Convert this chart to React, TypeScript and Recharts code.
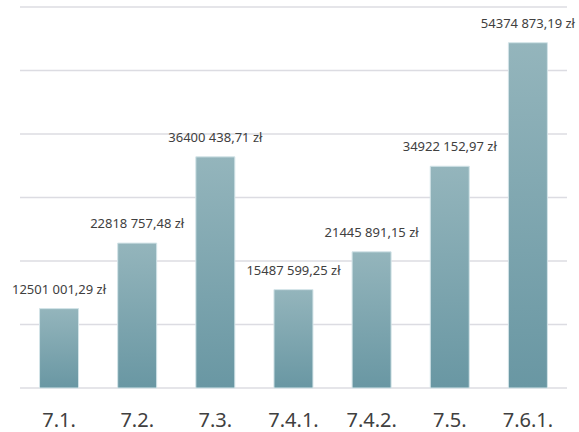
import { BarChart, Bar, XAxis, YAxis, CartesianGrid, LabelList } from 'recharts'

const categories = ['7.1.', '7.2.', '7.3.', '7.4.1.', '7.4.2.', '7.5.', '7.6.1.']
const amounts = [12501001.29, 22818757.48, 36400438.71, 15487599.25, 21445891.15, 34922152.97, 54374873.19]
const yTicks = [0, 10000000, 20000000, 30000000, 40000000, 50000000, 60000000]

const data = categories.map((name, i) => ({ name, value: amounts[i] }))

// excel-style: only the last thousands group is split off
function formatPln(v: number) {
  const [int, dec] = v.toFixed(2).split('.')
  const head = int.length > 3 ? int.slice(0, -3) + ' ' + int.slice(-3) : int
  return `${head},${dec} zł`
}

// plain text so the label doesn't wrap to the bar's width
function ValueLabel(props: any) {
  const { x, y, width, value } = props
  return (
    <text x={Number(x) + Number(width) / 2} y={Number(y) - 15} textAnchor="middle" fontSize={13} fill="#404040">
      {formatPln(Number(value))}
    </text>
  )
}

export default function App() {
  return (
    <div style={{ position: 'fixed', left: 0, top: 0, width: 579, height: 432, background: '#fff', fontFamily: '"Noto Sans", sans-serif' }}>
      <BarChart width={579} height={432} data={data} margin={{ top: 7, right: 12, left: 20, bottom: 0 }} barCategoryGap="25%">
        <defs>
          <linearGradient id="barFill" x1="0" y1="0" x2="0" y2="1">
            <stop offset="0%" stopColor="#94b5bc" />
            <stop offset="100%" stopColor="#6997a3" />
          </linearGradient>
        </defs>
        <CartesianGrid vertical={false} stroke="#dcdce2" strokeWidth={1.5} />
        <YAxis hide domain={[0, 60000000]} ticks={yTicks} />
        <XAxis
          dataKey="name"
          height={44}
          axisLine={false}
          tickLine={false}
          tickMargin={19}
          tick={{ fontSize: 20, fill: '#404040' }}
        />
        <Bar dataKey="value" fill="url(#barFill)" stroke="#d3e4e8" strokeWidth={1} isAnimationActive={false}>
          <LabelList dataKey="value" content={ValueLabel} />
        </Bar>
      </BarChart>
    </div>
  )
}
